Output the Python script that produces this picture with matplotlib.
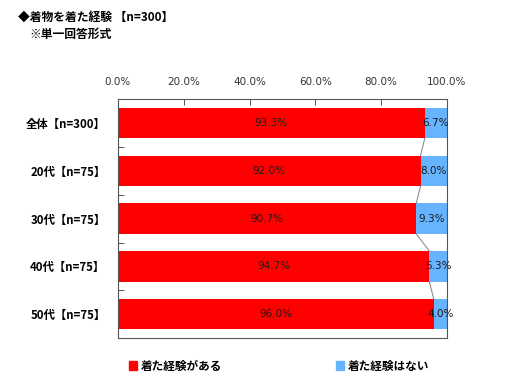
import matplotlib
matplotlib.use("Agg")
import matplotlib.pyplot as plt
import numpy as np
from matplotlib.patches import Patch

plt.rcParams['font.family'] = ['Noto Sans CJK JP', 'DejaVu Sans']

categories = ['全体【n=300】', '20代【n=75】', '30代【n=75】', '40代【n=75】', '50代【n=75】']
yes_vals = [93.3, 92.0, 90.7, 94.7, 96.0]
no_vals = [6.7, 8.0, 9.3, 5.3, 4.0]
series_names = ['着た経験がある', '着た経験はない']
xticks = [0, 20, 40, 60, 80, 100]
xtick_labels = ['0.0%', '20.0%', '40.0%', '60.0%', '80.0%', '100.0%']

red = '#FF0000'
blue = '#66B3FF'

fig = plt.figure(figsize=(5.13, 3.89), dpi=100)
ax = fig.add_axes([0.230, 0.131, 0.641, 0.614])

y = np.arange(len(categories))
h = 0.64
ax.barh(y, yes_vals, height=h, color=red, edgecolor='none')
ax.barh(y, no_vals, left=yes_vals, height=h, color=blue, edgecolor='none')

# series lines
for i in range(len(categories) - 1):
    ax.plot([yes_vals[i], yes_vals[i + 1]], [i + h / 2, i + 1 - h / 2],
            color='#808080', lw=0.7)

for i in range(len(categories)):
    ax.text(yes_vals[i] / 2, i, f'{yes_vals[i]:.1f}%', ha='center', va='center',
            fontsize=7.5, color='#1a1a1a', family=['DejaVu Sans'])
    ax.text(yes_vals[i] + no_vals[i] / 2, i, f'{no_vals[i]:.1f}%', ha='center',
            va='center', fontsize=7.5, color='#1a1a1a', family=['DejaVu Sans'])

ax.set_xlim(0, 100)
ax.set_ylim(len(categories) - 0.5, -0.5)
ax.xaxis.tick_top()
ax.set_xticks(xticks)
ax.set_xticklabels(xtick_labels, fontsize=7.5, color='#333333', family=['DejaVu Sans'])
ax.tick_params(axis='x', direction='in', length=4, pad=9, width=0.7, color='#555555')
ax.set_yticks(y)
ax.set_yticklabels(categories, fontsize=8.2, fontweight='bold')
ax.tick_params(axis='y', length=0, pad=9)
ax.set_yticks(np.arange(len(categories) + 1) - 0.5, minor=True)
ax.tick_params(axis='y', which='minor', direction='in', length=4, width=0.7, color='#555555')
for s in ax.spines.values():
    s.set_color('#555555')
    s.set_linewidth(0.8)

fig.text(0.035, 0.955, '◆着物を着た経験 【n=300】', fontsize=8.5, fontweight='bold',
         va='center', ha='left')
fig.text(0.058, 0.912, '※単一回答形式', fontsize=8.5, fontweight='bold',
         va='center', ha='left')

leg1 = fig.legend(handles=[Patch(color=red, label=series_names[0])],
                  loc='center left', bbox_to_anchor=(0.231, 0.059), frameon=False,
                  handlelength=0.7, handleheight=0.7, handletextpad=0.3,
                  prop={'size': 8.4, 'weight': 'bold'})
leg2 = fig.legend(handles=[Patch(color=blue, label=series_names[1])],
                  loc='center left', bbox_to_anchor=(0.634, 0.059), frameon=False,
                  handlelength=0.7, handleheight=0.7, handletextpad=0.3,
                  prop={'size': 8.4, 'weight': 'bold'})

fig.savefig('out.png', dpi=100)
